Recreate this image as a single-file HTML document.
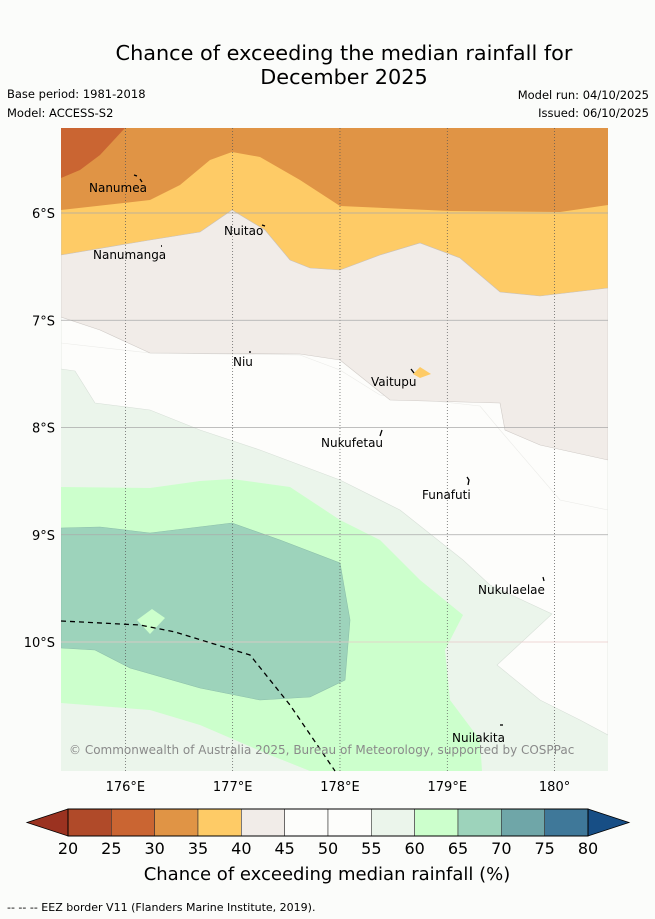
<!DOCTYPE html>
<html><head><meta charset="utf-8">
<style>
body{margin:0;background:#fbfcfa;font-family:"Liberation Sans","DejaVu Sans",sans-serif;}
#wrap{position:relative;width:655px;height:919px;overflow:hidden;}
.t{position:absolute;white-space:nowrap;}
</style></head>
<body>
<div id="wrap">
<div class="t" style="left:0;width:688px;text-align:center;top:41px;font-size:20.8px;line-height:24px;font-family:'DejaVu Sans',sans-serif;">Chance of exceeding the median rainfall for<br>December 2025</div>
<div class="t" style="left:7px;top:87px;font-size:11.5px;font-family:'DejaVu Sans',sans-serif;">Base period: 1981-2018</div>
<div class="t" style="left:7px;top:106px;font-size:11.5px;font-family:'DejaVu Sans',sans-serif;">Model: ACCESS-S2</div>
<div class="t" style="right:6px;top:88px;font-size:11.5px;font-family:'DejaVu Sans',sans-serif;">Model run: 04/10/2025</div>
<div class="t" style="right:6px;top:106px;font-size:11.5px;font-family:'DejaVu Sans',sans-serif;">Issued: 06/10/2025</div>

<svg id="map" width="655" height="919" style="position:absolute;left:0;top:0" xmlns="http://www.w3.org/2000/svg">
<defs><clipPath id="mc"><rect x="61" y="128" width="547" height="643"/></clipPath></defs>
<g clip-path="url(#mc)">
<rect x="61" y="128" width="547" height="643" fill="#ebf5eb"/>
<polygon fill="#ccffcc" points="61,487 150,488 200,481 232,479 290,487 340,520 380,540 420,580 463,615 445,650 450,700 480,740 482,771 310,771 270,755 200,725 150,710 61,703"/>
<polygon fill="#9dd3bb" stroke="#8cbfaa" stroke-width="0.6" points="61,528 100,527 150,533 232,523 280,540 340,563 350,620 345,680 310,697 260,700 200,688 130,668 95,650 61,648"/>
<polygon fill="#ccffcc" points="137,620 152,609 165,618 150,634"/>
<polygon fill="#fdfdfb" stroke="#d8e0d8" stroke-width="0.6" points="61,369 75,371 95,403 150,410 200,430 260,450 340,480 400,510 463,560 490,585 552,614 497,665 540,700 580,720 608,735 608,128 61,128"/>
<polyline fill="none" stroke="#ebebe8" stroke-width="0.6" points="61,343 150,353 300,355 340,370 380,395 480,406 500,430 560,500 608,510"/>
<polygon fill="#f1ece8" stroke="#cfcac6" stroke-width="0.6" points="61,317 100,330 150,353 300,354 340,360 390,400 500,403 505,430 540,445 608,460 608,128 61,128"/>
<polygon fill="#fecb66" stroke="#c8c0b8" stroke-width="0.6" points="61,255 150,240 200,232 232,210 265,230 290,260 310,268 340,270 380,255 420,243 460,258 500,292 540,296 608,288 608,128 61,128"/>
<polygon fill="#e09445" points="61,210 150,200 180,185 210,160 232,152 260,157 300,180 340,206 450,211 560,212 608,205 608,128 61,128"/>
<polygon fill="#ca6532" points="61,178 80,170 100,155 125,128 61,128"/>
<polygon fill="#fecb66" points="413,374 420,367 431,374 420,378"/>
</g>
<g id="grid"></g>
<polyline fill="none" stroke="#000" stroke-width="1.3" stroke-dasharray="5,4" points="61,621 140,625 175,632 250,655 290,705 335,771"/>
<g font-size="12" font-family="DejaVu Sans,sans-serif" fill="#000">
<text x="89" y="192">Nanumea</text><path d="M134,175 l3,1 M140,179 l2,3" stroke="#000" stroke-width="1.3"/>
<text x="224" y="235">Nuitao</text><path d="M262,225 l3,1" stroke="#000" stroke-width="1.3"/>
<text x="93" y="259">Nanumanga</text><path d="M161,246 l1,0" stroke="#000" stroke-width="1.5"/>
<text x="233" y="366">Niu</text><path d="M249,352 l2,0" stroke="#000" stroke-width="1.3"/>
<text x="371" y="386">Vaitupu</text><path d="M411,369 l3,4" stroke="#000" stroke-width="1.3"/>
<text x="321" y="447">Nukufetau</text><path d="M382,430 l-2,6" stroke="#000" stroke-width="1.3"/>
<text x="422" y="499">Funafuti</text><path d="M467,477 l2,3 l-1,5" stroke="#000" stroke-width="1.3" fill="none"/>
<text x="478" y="594">Nukulaelae</text><path d="M543,577 l1,4" stroke="#000" stroke-width="1.3"/>
<text x="452" y="742">Nuilakita</text><path d="M500,725 l3,0" stroke="#000" stroke-width="1.3"/>
</g>
<text x="69" y="754" font-size="12" fill="#8a8a8a" font-family="DejaVu Sans,sans-serif">© Commonwealth of Australia 2025, Bureau of Meteorology, supported by COSPPac</text>
<g id="axes" font-size="13" font-family="DejaVu Sans,sans-serif"></g>
<g id="cbar"></g>
<text x="327" y="880" text-anchor="middle" font-size="18" font-family="DejaVu Sans,sans-serif">Chance of exceeding median rainfall (%)</text>
<text x="7" y="911" font-size="11" font-family="DejaVu Sans,sans-serif">--  --  -- EEZ border V11 (Flanders Marine Institute, 2019).</text>
</svg>
</div>
<script>
const lonTicks=[176,177,178,179,180];
const latTicks=[6,7,8,9,10];
const levels=[20,25,30,35,40,45,50,55,60,65,70,75,80];
const binColors=["#b04a29","#ca6532","#e09445","#fecb66","#f1ece8","#fdfdfb","#fdfdfb","#ebf5eb","#ccffcc","#9dd3bb","#6fa6a8","#3f7899"];
const lowColor="#9b3220", highColor="#174e85";
const NS="http://www.w3.org/2000/svg";
const X=lon=>61+(lon-175.4)*107.3;
const Y=lat=>213+(lat-6)*107.25;
function mk(tag,attrs,parent,txt){const e=document.createElementNS(NS,tag);for(const k in attrs)e.setAttribute(k,attrs[k]);if(txt!=null)e.textContent=txt;parent.appendChild(e);return e;}
const grid=document.getElementById('grid'), axes=document.getElementById('axes'), cb=document.getElementById('cbar');
lonTicks.forEach(l=>{const x=X(l);
 const ln=mk('line',{x1:x,x2:x,y1:128,y2:771,stroke:'#555','stroke-width':0.7,'stroke-dasharray':'1,2'},grid);
 
 
 const t=mk('text',{x:x,y:791,'text-anchor':'middle'},axes,(l===180?'180°':l+'°E'));
 
 
});
latTicks.forEach(l=>{const y=Y(l);
 const ln=mk('line',{x1:61,x2:608,y1:y,y2:y,stroke:l===10?'#e8c8c8':'#aaa','stroke-width':0.7},grid);
 
 
 const t=mk('text',{x:55,y:y+5,'text-anchor':'end'},axes,l+'°S');
 
 
});
const cx0=68,cx1=588,cy0=809,cy1=836,bw=(cx1-cx0)/binColors.length;
binColors.forEach((c,i)=>{const r=mk('rect',{x:cx0+i*bw,y:cy0,width:bw,height:cy1-cy0,fill:c,stroke:'#333','stroke-width':0.6},cb);
 
 });
const lt=mk('polygon',{points:`${cx0},${cy0} 27,${(cy0+cy1)/2} ${cx0},${cy1}`,fill:lowColor,stroke:'#000','stroke-width':0.8},cb);


const ht=mk('polygon',{points:`${cx1},${cy0} 629,${(cy0+cy1)/2} ${cx1},${cy1}`,fill:highColor,stroke:'#000','stroke-width':0.8},cb);


mk('rect',{x:cx0,y:cy0,width:cx1-cx0,height:cy1-cy0,fill:'none',stroke:'#000','stroke-width':1},cb);
levels.forEach((v,i)=>{const t=mk('text',{x:cx0+i*bw,y:854,'text-anchor':'middle','font-size':16,'font-family':'DejaVu Sans,sans-serif'},cb,v);
 
 });
</script>
</body></html>
